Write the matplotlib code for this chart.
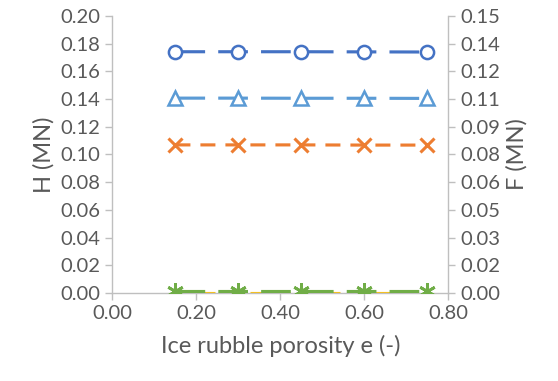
import matplotlib.pyplot as plt
import numpy as np

plt.rcParams['font.family'] = ['Lato', 'DejaVu Sans']

# data
porosity = [0.15, 0.30, 0.45, 0.60, 0.75]
H_circle = [0.1742, 0.1742, 0.1742, 0.1741, 0.1740]     # left axis
H_triangle = [0.1407, 0.1407, 0.1406, 0.1406, 0.1405]   # left axis
H_star = [0.0012, 0.0012, 0.0012, 0.0012, 0.0012]       # left axis
F_cross = [0.0802, 0.0802, 0.0802, 0.0801, 0.0801]      # right axis
F_dash = [0.0001, 0.0001, 0.0001, 0.0001, 0.0001]       # right axis

left_ticks = [0.00, 0.02, 0.04, 0.06, 0.08, 0.10, 0.12, 0.14, 0.16, 0.18, 0.20]
right_ticks = [0.000, 0.015, 0.030, 0.045, 0.060, 0.075, 0.090, 0.105, 0.120, 0.135, 0.150]
right_labels = ['0.00', '0.02', '0.03', '0.05', '0.06', '0.08', '0.09', '0.11', '0.12', '0.14', '0.15']
x_ticks = [0.00, 0.20, 0.40, 0.60, 0.80]

txt = '#595959'
axis_col = '#BFBFBF'

fig = plt.figure(figsize=(5.58, 3.81), dpi=100)
ax = fig.add_axes([0.2016, 0.231, 0.6014, 0.727])
ax2 = ax.twinx()

lw = 2.25
long_dash = (9.5, 4.2)
short_dash = (4.8, 3.2)

ax.plot(porosity, H_circle, color='#4472C4', lw=lw, dashes=long_dash,
        marker='o', ms=9.5, mfc='white', mec='#4472C4', mew=1.8, zorder=3)
ax.plot(porosity, H_triangle, color='#5B9BD5', lw=lw, dashes=long_dash,
        marker='^', ms=10, mfc='white', mec='#5B9BD5', mew=1.8, zorder=3)
ax2.plot(porosity, F_cross, color='#ED7D31', lw=lw, dashes=short_dash,
         marker='x', ms=10, mew=2.2, mec='#ED7D31', zorder=3)
ax2.plot(porosity, F_dash, color='#FFC000', lw=lw, dashes=short_dash, zorder=2)
ax.plot(porosity, H_star, color='#70AD47', lw=lw, dashes=long_dash,
        marker=(6, 2, 0), ms=12, mew=2.0, mec='#70AD47', zorder=4)

# put the left axes above the twin so the green line is on top
ax.set_zorder(ax2.get_zorder() + 1)
ax.patch.set_visible(False)

ax.set_xlim(0, 0.8)
ax.set_ylim(0, 0.2)
ax2.set_ylim(0, 0.15)
ax.set_xticks(x_ticks)
ax.set_xticklabels([f'{v:.2f}' for v in x_ticks])
ax.set_yticks(left_ticks)
ax.set_yticklabels([f'{v:.2f}' for v in left_ticks])
ax2.set_yticks(right_ticks)
ax2.set_yticklabels(right_labels)

for a in (ax, ax2):
    a.spines['top'].set_visible(False)
    for s in ('left', 'right', 'bottom'):
        a.spines[s].set_color(axis_col)
        a.spines[s].set_linewidth(1.0)
    a.tick_params(colors=axis_col, labelcolor=txt, labelsize=14.5, length=5, width=1.0, pad=4)
ax2.spines['left'].set_visible(False)
ax2.spines['bottom'].set_visible(False)
ax.spines['right'].set_visible(False)

ax.set_xlabel('Ice rubble porosity e (-)', fontsize=17, color=txt, labelpad=9)
ax.set_ylabel('H (MN)', fontsize=17, color=txt, labelpad=4)
ax2.set_ylabel('F (MN)', fontsize=17, color=txt, rotation=90, labelpad=4)

fig.savefig('out.png', dpi=100)
